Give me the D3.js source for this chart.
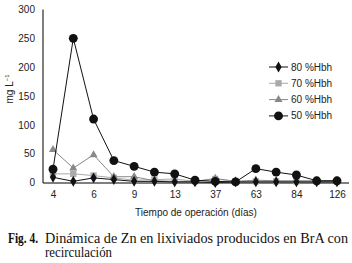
<!DOCTYPE html>
<html><head><meta charset="utf-8">
<script src="https://cdn.jsdelivr.net/npm/d3@7"></script>
<style>body{margin:0;background:#fff}svg{display:block}</style>
</head><body>
<script>
const categories = ["4","5","6","7","9","11","13","30","37","50","63","70","84","100","126"];
const tickLabels = ["4","","6","","9","","13","","37","","63","","84","","126"];
const yTicks = [0,50,100,150,200,250,300];
const s80 = [9,2,8,5,2,2,1,1,0,1,1,1,1,1,1];
const s70 = [15,15,12,8,4,5,6,2,6,2,2,2,2,2,2];
const s60 = [57,25,48,10,10,3,2,2,7,2,4,3,3,3,3];
const s50 = [23,250,110,38,28,18,15,4,2,1,24,18,13,3,3];
const seriesNames = ["80 %Hbh","70 %Hbh","60 %Hbh","50 %Hbh"];

const W=352,H=263;
const svg=d3.select("body").append("svg").attr("width",W).attr("height",H);
const x=d3.scalePoint().domain(categories).range([53,337]);
const y=d3.scaleLinear().domain([0,300]).range([182.5,9.5]);

const series=[
 {name:seriesNames[0],vals:s80,color:"#111",lw:1,sym:d3.symbolDiamond,size:34},
 {name:seriesNames[1],vals:s70,color:"#aaa",lw:1,sym:d3.symbolSquare,size:40},
 {name:seriesNames[2],vals:s60,color:"#888",lw:1,sym:d3.symbolTriangle,size:28},
 {name:seriesNames[3],vals:s50,color:"#111",lw:1,sym:d3.symbolCircle,size:62}
];

// axes
const yAx=svg.append("g").attr("transform","translate(43,0)")
 .call(d3.axisLeft(y).tickValues(yTicks).tickSize(0).tickPadding(8));
yAx.select(".domain").attr("stroke","#000").attr("d","M0,9.5V183");
yAx.selectAll("text").attr("font-family","Liberation Sans, Arial").attr("font-size",10).attr("fill","#222");

const xAx=svg.append("g").attr("transform","translate(0,183)")
 .call(d3.axisBottom(x).tickFormat((d,i)=>tickLabels[i]).tickSize(0).tickPadding(8));
xAx.select(".domain").attr("stroke","#000").attr("stroke-width",1.2).attr("d","M43,0H349");
xAx.selectAll("text").attr("font-family","Liberation Sans, Arial").attr("font-size",10).attr("fill","#222");

const line=d3.line().x((d,i)=>x(categories[i])).y(d=>y(d));
[1,2,0,3].forEach(k=>{
 const s=series[k];
 svg.append("path").datum(s.vals).attr("d",line).attr("fill","none").attr("stroke",s.color).attr("stroke-width",s.lw);
 svg.append("g").selectAll("path").data(s.vals).join("path")
  .attr("transform",(d,i)=>`translate(${x(categories[i])},${y(d)})`)
  .attr("d",d3.symbol().type(s.sym).size(s.size)).attr("fill",s.color);
});

// legend
const lg=svg.append("g");
series.forEach((s,i)=>{
 const yy=67+i*16.3;
 lg.append("line").attr("x1",269).attr("x2",288).attr("y1",yy).attr("y2",yy).attr("stroke",s.color).attr("stroke-width",1);
 lg.append("path").attr("transform",`translate(278.5,${yy})`).attr("d",d3.symbol().type(s.sym).size(s.size)).attr("fill",s.color);
 lg.append("text").attr("x",291).attr("y",yy+3.5).text(s.name)
  .attr("font-family","Liberation Sans, Arial").attr("font-size",10).attr("fill","#222");
});

// axis titles
svg.append("text").attr("transform","translate(13,89) rotate(-90)").attr("text-anchor","middle")
 .attr("font-family","Liberation Sans, Arial").attr("font-size",10).attr("fill","#222")
 .html('mg L<tspan dy="-4" font-size="6">−1</tspan>');
svg.append("text").attr("x",196).attr("y",216).attr("text-anchor","middle")
 .attr("font-family","Liberation Sans, Arial").attr("font-size",10).attr("fill","#222")
 .text("Tiempo de operación (días)");

// caption
const serif="Liberation Serif, Times New Roman";
svg.append("text").attr("x",8).attr("y",243).attr("font-family",serif).attr("font-size",14).attr("font-weight","bold").attr("fill","#111")
 .attr("textLength",30).attr("lengthAdjust","spacingAndGlyphs").text("Fig. 4.");
svg.append("text").attr("x",45).attr("y",243).attr("font-family",serif).attr("font-size",14).attr("fill","#111")
 .attr("textLength",303).attr("lengthAdjust","spacingAndGlyphs").text("Dinámica de Zn en lixiviados producidos en BrA con");
svg.append("text").attr("x",45).attr("y",257).attr("font-family",serif).attr("font-size",14).attr("fill","#111")
 .attr("textLength",67).attr("lengthAdjust","spacingAndGlyphs").text("recirculación");
</script>
</body></html>
